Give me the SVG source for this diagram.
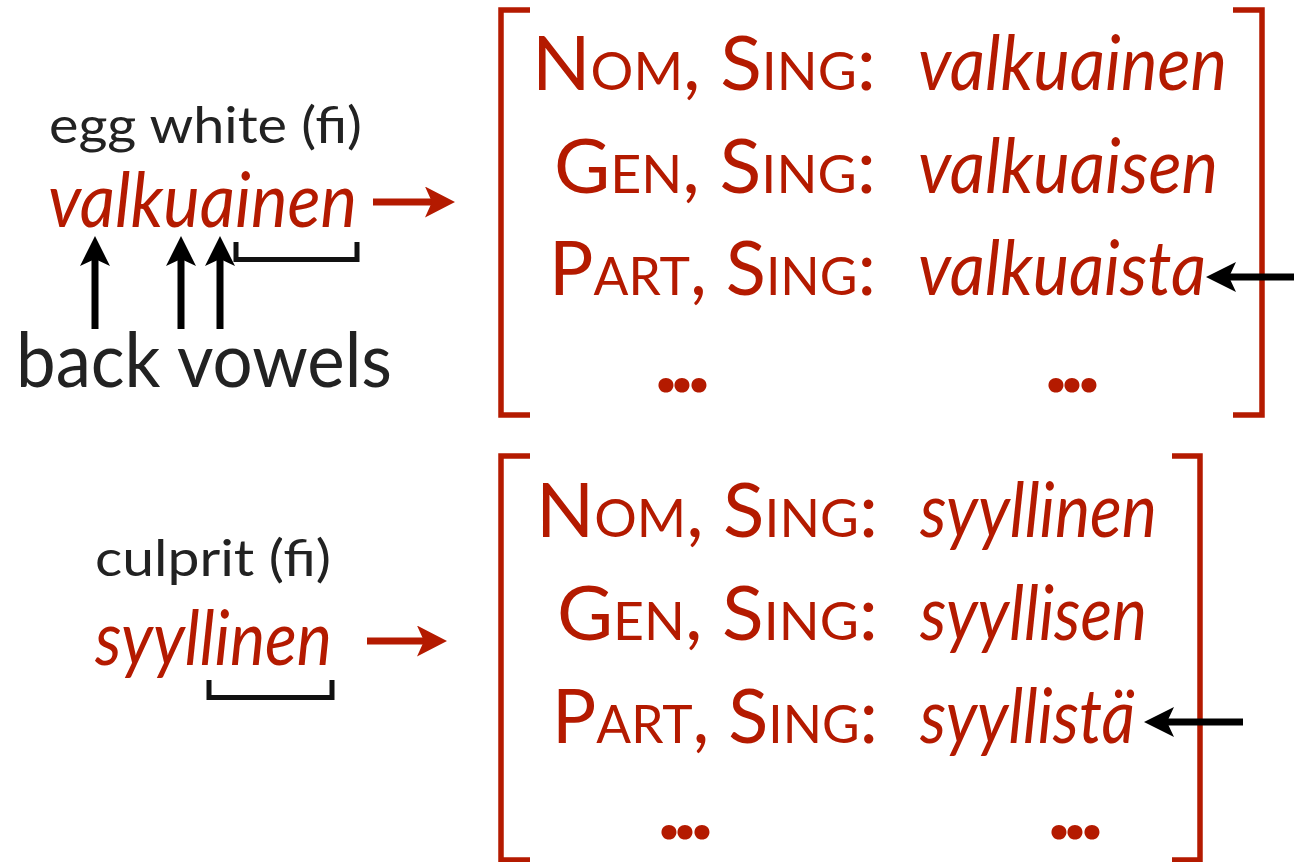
<svg xmlns="http://www.w3.org/2000/svg" width="1294" height="862" viewBox="0 0 1294 862">
  <style>
    .red { fill: #b41a00; }
    .blk { fill: #222222; }
    .lab { font-family: Lato, "Open Sans", "DejaVu Sans", sans-serif; font-size: 76px; }
    .sc { font-size: 53px; }
    .it { font-family: Lato, "Open Sans", "DejaVu Sans", sans-serif; font-style: italic; font-size: 76px; }
    .gl { font-family: Lato, "Open Sans", "DejaVu Sans", sans-serif; font-size: 51px; }
    .dots { font-family: Lato, "DejaVu Sans", sans-serif; font-weight: 900; font-size: 92px; }
    .brk { fill: none; stroke: #b41a00; stroke-width: 5.5; stroke-linejoin: miter; }
    .ubrk { fill: none; stroke: #111111; stroke-width: 5; stroke-linejoin: miter; }
    .redline { stroke: #b41a00; stroke-width: 7; fill: none; }
    .blkline { stroke: #000000; stroke-width: 7; fill: none; }
  </style>
  <defs>
    <marker id="headRed" viewBox="0 0 30 31" refX="7" refY="15.5" markerWidth="30" markerHeight="31" markerUnits="userSpaceOnUse" orient="auto">
      <path d="M0,0 L30,15.5 L0,31 L7,15.5 Z" fill="#b41a00"/>
    </marker>
    <marker id="headBlk" viewBox="0 0 30 30" refX="7" refY="15" markerWidth="30" markerHeight="30" markerUnits="userSpaceOnUse" orient="auto">
      <path d="M0,0 L30,15 L0,30 L7,15 Z" fill="#000000"/>
    </marker>
  </defs>

  <!-- Left: valkuainen -->
  <g id="word-valkuainen">
    <text class="gl blk" x="49" y="143" textLength="313" lengthAdjust="spacingAndGlyphs">egg white (fi)</text>
    <text class="it red" x="48" y="227" textLength="309" lengthAdjust="spacingAndGlyphs">valkuainen</text>
    <path class="ubrk" d="M236,242 V259.5 H357 V242"/>
  </g>
  <g id="label-back-vowels">
    <text class="lab blk" x="16" y="387" font-size="73" textLength="376" lengthAdjust="spacingAndGlyphs">back vowels</text>
  </g>

  <!-- Left: syyllinen -->
  <g id="word-syyllinen">
    <text class="gl blk" x="95" y="576" textLength="236" lengthAdjust="spacingAndGlyphs">culprit (fi)</text>
    <text class="it red" x="95" y="665" textLength="237" lengthAdjust="spacingAndGlyphs">syyllinen</text>
    <path class="ubrk" d="M209,680 V697.5 H332 V680"/>
  </g>

  <!-- Top paradigm -->
  <g id="paradigm-valkuainen">
    <path class="brk" d="M530,10 H501 V415 H530"/>
    <path class="brk" d="M1233,10 H1262 V415 H1233"/>
    <text class="lab red" x="532" y="90" textLength="344" lengthAdjust="spacingAndGlyphs">N<tspan class="sc">OM</tspan>, S<tspan class="sc">ING</tspan>:</text>
    <text class="it red" x="918" y="90" textLength="309" lengthAdjust="spacingAndGlyphs">valkuainen</text>
    <text class="lab red" x="554" y="193" textLength="322" lengthAdjust="spacingAndGlyphs">G<tspan class="sc">EN</tspan>, S<tspan class="sc">ING</tspan>:</text>
    <text class="it red" x="918" y="193" textLength="300" lengthAdjust="spacingAndGlyphs">valkuaisen</text>
    <text class="lab red" x="549" y="295" textLength="327" lengthAdjust="spacingAndGlyphs">P<tspan class="sc">ART</tspan>, S<tspan class="sc">ING</tspan>:</text>
    <text class="it red" x="918" y="295" textLength="288" lengthAdjust="spacingAndGlyphs">valkuaista</text>
    <text class="dots red" x="655 671 688" y="392">...</text>
    <text class="dots red" x="1045 1061 1078" y="392">...</text>
  </g>

  <!-- Bottom paradigm -->
  <g id="paradigm-syyllinen">
    <path class="brk" d="M530,456 H501 V860 H530"/>
    <path class="brk" d="M1172,456 H1200 V860 H1172"/>
    <text class="lab red" x="536" y="537" textLength="342" lengthAdjust="spacingAndGlyphs">N<tspan class="sc">OM</tspan>, S<tspan class="sc">ING</tspan>:</text>
    <text class="it red" x="920" y="537" textLength="237" lengthAdjust="spacingAndGlyphs">syyllinen</text>
    <text class="lab red" x="557" y="640" textLength="321" lengthAdjust="spacingAndGlyphs">G<tspan class="sc">EN</tspan>, S<tspan class="sc">ING</tspan>:</text>
    <text class="it red" x="920" y="640" textLength="227" lengthAdjust="spacingAndGlyphs">syyllisen</text>
    <text class="lab red" x="552" y="743" textLength="326" lengthAdjust="spacingAndGlyphs">P<tspan class="sc">ART</tspan>, S<tspan class="sc">ING</tspan>:</text>
    <text class="it red" x="920" y="743" textLength="215" lengthAdjust="spacingAndGlyphs">syyllistä</text>
    <text class="dots red" x="658 674 691" y="839">...</text>
    <text class="dots red" x="1048 1064 1081" y="839">...</text>
  </g>

  <!-- Connectors -->
  <g id="connectors">
    <line class="redline" x1="373" y1="202" x2="432" y2="202" marker-end="url(#headRed)"/>
    <line class="redline" x1="367" y1="641" x2="424" y2="641" marker-end="url(#headRed)"/>
    <line class="blkline" x1="95" y1="329" x2="95" y2="259" marker-end="url(#headBlk)"/>
    <line class="blkline" x1="181" y1="329" x2="181" y2="259" marker-end="url(#headBlk)"/>
    <line class="blkline" x1="220" y1="329" x2="220" y2="259" marker-end="url(#headBlk)"/>
    <line class="blkline" x1="1294" y1="277" x2="1229" y2="277" marker-end="url(#headBlk)"/>
    <line class="blkline" x1="1243" y1="722" x2="1167" y2="722" marker-end="url(#headBlk)"/>
  </g>
</svg>
